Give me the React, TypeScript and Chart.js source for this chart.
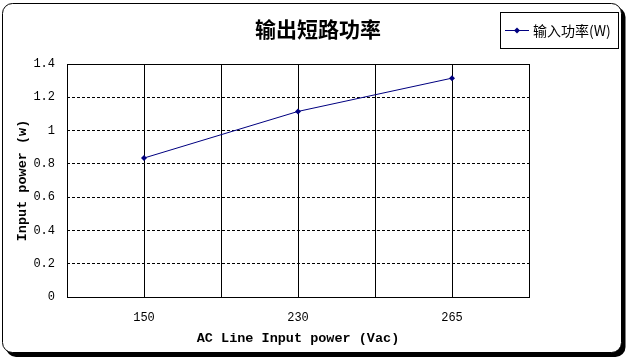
import React, { useEffect, useRef } from 'react';
import { Chart, registerables } from 'chart.js';

Chart.register(...registerables);

const categories = ['150', '230', '265'];
const inputPower = [0.835, 1.115, 1.315];
const seriesLabel = '输入功率(W)';
const chartTitle = '输出短路功率';
const xTitle = 'AC Line Input power (Vac)';
const yTitle = 'Input power (w)';
const yMin = 0;
const yMax = 1.4;
const yStep = 0.2;

const SERIES_COLOR = '#000080';

function roundRect(ctx: CanvasRenderingContext2D, x: number, y: number, w: number, h: number, r: number) {
  ctx.beginPath();
  ctx.moveTo(x + r, y);
  ctx.lineTo(x + w - r, y);
  ctx.arcTo(x + w, y, x + w, y + r, r);
  ctx.lineTo(x + w, y + h - r);
  ctx.arcTo(x + w, y + h, x + w - r, y + h, r);
  ctx.lineTo(x + r, y + h);
  ctx.arcTo(x, y + h, x, y + h - r, r);
  ctx.lineTo(x, y + r);
  ctx.arcTo(x, y, x + r, y, r);
  ctx.closePath();
}

const decorPlugin = {
  id: 'decor',
  beforeDraw(chart: any) {
    const ctx = chart.ctx as CanvasRenderingContext2D;
    ctx.save();
    ctx.fillStyle = '#ffffff';
    ctx.fillRect(0, 0, chart.width, chart.height);
    // shadow
    ctx.fillStyle = '#000000';
    roundRect(ctx, 6, 7, 619.5, 350, 10);
    ctx.fill();
    // frame
    ctx.fillStyle = '#ffffff';
    roundRect(ctx, 2.5, 3.5, 619, 349, 10);
    ctx.fill();
    ctx.strokeStyle = '#000000';
    ctx.lineWidth = 1;
    ctx.stroke();
    ctx.restore();
  },
  beforeDatasetsDraw(chart: any) {
    const ctx = chart.ctx as CanvasRenderingContext2D;
    const a = chart.chartArea;
    ctx.save();
    ctx.strokeStyle = '#000000';
    ctx.lineWidth = 1;
    ctx.strokeRect(Math.round(a.left) + 0.5, Math.round(a.top) + 0.5, Math.round(a.right - a.left), Math.round(a.bottom - a.top));
    ctx.restore();
  },
  afterDraw(chart: any) {
    const ctx = chart.ctx as CanvasRenderingContext2D;
    ctx.save();
    // title
    ctx.fillStyle = '#000000';
    ctx.font = 'bold 21px "Noto Sans CJK SC"';
    ctx.textAlign = 'center';
    ctx.textBaseline = 'middle';
    ctx.fillText(chartTitle, 318, 29);
    // legend box
    ctx.strokeStyle = '#000000';
    ctx.lineWidth = 1;
    ctx.strokeRect(500.5, 12.5, 118, 36);
    ctx.strokeStyle = SERIES_COLOR;
    ctx.beginPath();
    ctx.moveTo(505, 30.5);
    ctx.lineTo(529, 30.5);
    ctx.stroke();
    ctx.fillStyle = SERIES_COLOR;
    ctx.beginPath();
    ctx.moveTo(517, 27.5);
    ctx.lineTo(520, 30.5);
    ctx.lineTo(517, 33.5);
    ctx.lineTo(514, 30.5);
    ctx.closePath();
    ctx.fill();
    ctx.fillStyle = '#000000';
    ctx.font = '14px "Noto Sans CJK SC"';
    ctx.textAlign = 'left';
    ctx.textBaseline = 'middle';
    ctx.fillText(seriesLabel, 533, 31);
    ctx.restore();
  },
};

export default function App() {
  const ref = useRef<HTMLCanvasElement | null>(null);
  useEffect(() => {
    if (!ref.current) return;
    const chart = new Chart(ref.current, {
      type: 'line',
      data: {
        datasets: [
          {
            label: seriesLabel,
            data: inputPower.map((v, i) => ({ x: i, y: v })),
            borderColor: SERIES_COLOR,
            backgroundColor: SERIES_COLOR,
            borderWidth: 1,
            pointStyle: 'rectRot',
            pointRadius: 3,
            pointBorderWidth: 0,
            tension: 0,
          },
        ],
      },
      options: {
        animation: false,
        responsive: false,
        devicePixelRatio: 1,
        layout: { padding: { left: 10, top: 64, right: 97, bottom: 10 } },
        plugins: {
          legend: { display: false },
          title: { display: false },
          tooltip: { enabled: false },
        },
        scales: {
          x: {
            type: 'linear',
            min: -0.5,
            max: categories.length - 0.5,
            afterFit: (s: any) => {
              s.height = 52;
            },
            afterBuildTicks: (s: any) => {
              const t = [];
              for (let i = 0; i <= categories.length * 2; i++) t.push({ value: -0.5 + i * 0.5 });
              s.ticks = t;
            },
            ticks: {
              autoSkip: false,
              maxRotation: 0,
              padding: 14,
              color: '#000000',
              font: { family: '"Liberation Mono"', size: 12 },
              callback: (v: any) => {
                const n = Number(v);
                const r = Math.round(n);
                return Math.abs(n - r) < 1e-6 && categories[r] !== undefined ? categories[r] : '';
              },
            },
            grid: { color: '#000000', lineWidth: 1, drawTicks: false },
            border: { display: false },
            title: {
              display: true,
              text: xTitle,
              color: '#000000',
              font: { family: '"Liberation Mono"', size: 13.5, weight: 'bold' },
              padding: { top: 0, bottom: 2 },
            },
          },
          y: {
            type: 'linear',
            min: yMin,
            max: yMax,
            afterFit: (s: any) => {
              s.width = 57;
            },
            ticks: {
              stepSize: yStep,
              padding: 12,
              color: '#000000',
              font: { family: '"Liberation Mono"', size: 12 },
              callback: (v: any) => String(Number(Number(v).toFixed(1))),
            },
            grid: { color: '#000000', lineWidth: 1, drawTicks: false },
            border: {
              display: false,
              dash: (c: any) => {
                const v = c.tick ? c.tick.value : 0;
                return v <= yMin + 1e-6 || v >= yMax - 1e-6 ? [] : [3, 2];
              },
            },
            title: {
              display: true,
              text: yTitle,
              color: '#000000',
              font: { family: '"Liberation Mono"', size: 13.5, weight: 'bold' },
              padding: { top: 4, bottom: 0 },
            },
          },
        },
      },
      plugins: [decorPlugin],
    } as any);
    return () => chart.destroy();
  }, []);
  return (
    <div style={{ position: 'fixed', left: 0, top: 0, width: 626, height: 359 }}>
      <canvas ref={ref} width={626} height={359} style={{ display: 'block', width: 626, height: 359 }} />
    </div>
  );
}
